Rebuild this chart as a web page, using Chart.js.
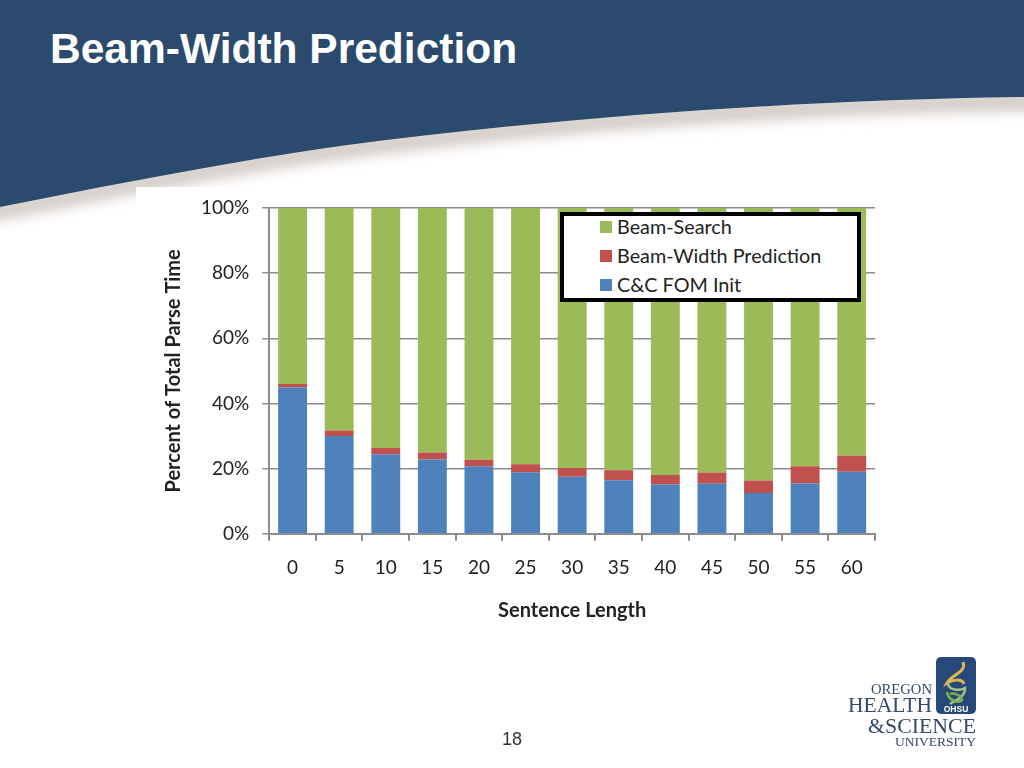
<!DOCTYPE html>
<html>
<head>
<meta charset="utf-8">
<title>Beam-Width Prediction</title>
<script src="https://cdn.jsdelivr.net/npm/chart.js@4"></script>
<style>
  html, body { margin: 0; padding: 0; background: #fff; }
  #slide { position: relative; width: 1024px; height: 768px; overflow: hidden; font-family: "Liberation Sans", sans-serif; }
  #swoosh { position: absolute; left: 0; top: 0; }
  h1 { position: absolute; left: 50px; top: 25px; margin: 0; color: #fff; font-size: 42.5px; font-weight: bold; line-height: 48px; }
  #panel { position: absolute; left: 136px; top: 187px; width: 760px; height: 450px; background: #fff; }
  #chartBox { position: absolute; left: 0; top: 0; width: 1024px; height: 768px; }
  #legend { position: absolute; left: 560px; top: 212px; width: 301px; height: 90px; box-sizing: border-box; border: 4px solid #000; background: #fff; font-family: Lato, sans-serif; font-size: 19.8px; color: #222; }
  #legend div { position: absolute; left: 53px; height: 29px; line-height: 29px; white-space: nowrap; }
  #legend i { position: absolute; left: -17px; top: 9px; width: 12px; height: 12px; }
  #pageNo { position: absolute; left: 492px; top: 729px; width: 40px; text-align: center; font-size: 18px; color: #333; }
  #logo { position: absolute; left: 840px; top: 650px; }
</style>
</head>
<body>
<div id="slide">
  <svg id="swoosh" width="1024" height="260">
    <defs>
      <filter id="soft" filterUnits="userSpaceOnUse" x="-60" y="40" width="1144" height="220">
        <feGaussianBlur stdDeviation="6"/>
      </filter>
    </defs>
    <path d="M-40 209 C120 177 240 154 340 140 C560 111 800 94 1064 91 L1064 111 C800 114 560 131 340 160 C240 174 120 197 -40 229 Z" fill="#d6cfc9" filter="url(#soft)"/>
    <path d="M0 0 H1024 V97 C800 100 560 117 340 146 C240 160 120 183 0 207 Z" fill="#2a4a6e"/>
  </svg>
  <h1>Beam-Width Prediction</h1>
  <div id="panel"></div>
  <div id="chartBox"><canvas id="parseChart" width="1024" height="768"></canvas></div>
  <div id="legend"></div>
  <div id="pageNo">18</div>
  <svg id="logo" width="140" height="105" font-family="Liberation Serif, serif" fill="#34486b">
    <rect x="96" y="7" width="40" height="57" rx="5" fill="#27497a"/>
    <path d="M123 12 C127 22 112 24 107 33 C112 30 122 28 124 34" fill="none" stroke="#dcb84e" stroke-width="3"/>
    <path d="M108 34 C110 42 122 40 125 38 C126 46 116 50 110 54" fill="none" stroke="#a8c585" stroke-width="2.5"/>
    <path d="M107 42 C108 50 118 54 122 50 C122 46 114 42 110 44" fill="none" stroke="#7fb24e" stroke-width="2.5"/>
    <text x="116" y="62" text-anchor="middle" font-family="Liberation Sans, sans-serif" font-size="8.5" font-weight="bold" fill="#fff">OHSU</text>
    <text x="31" y="44" font-size="14" textLength="61" lengthAdjust="spacingAndGlyphs">OREGON</text>
    <text x="8" y="62" font-size="21" textLength="84" lengthAdjust="spacingAndGlyphs">HEALTH</text>
    <text x="28" y="83" font-size="21" textLength="108" lengthAdjust="spacingAndGlyphs">&amp;SCIENCE</text>
    <text x="55" y="96" font-size="13" textLength="81" lengthAdjust="spacingAndGlyphs">UNIVERSITY</text>
  </svg>
</div>
<script>
const categories = ["0", "5", "10", "15", "20", "25", "30", "35", "40", "45", "50", "55", "60"];
const cfInit = [44.9, 30.0, 24.4, 22.8, 20.7, 18.9, 17.5, 16.4, 15.1, 15.3, 12.5, 15.4, 19.0];
const beamWidth = [1.1, 1.7, 1.9, 2.1, 2.0, 2.4, 2.7, 3.1, 2.9, 3.5, 3.8, 5.3, 4.9];
const beamSearch = [54.0, 68.3, 73.7, 75.1, 77.3, 78.7, 79.8, 80.5, 82.0, 81.2, 83.7, 79.3, 76.1];

const greyLine = "#8c8c8c";
const textColor = "#222";
const tickFont = { family: "Lato, sans-serif", size: 19 };
const titleFont = { family: "Lato, sans-serif", size: 20, weight: "bold" };

const chart = new Chart(document.getElementById("parseChart"), {
    type: "bar",
    data: {
        labels: categories,
        datasets: [
            { label: "C&C FOM Init", data: cfInit, backgroundColor: "#4f81bd" },
            { label: "Beam-Width Prediction", data: beamWidth, backgroundColor: "#c0504d" },
            { label: "Beam-Search", data: beamSearch, backgroundColor: "#9bbb59" }
        ]
    },
    options: {
        responsive: false,
        animation: false,
        layout: { padding: { left: 162, top: 208, right: 149, bottom: 145.5 } },
        plugins: { legend: { display: false }, tooltip: { enabled: false } },
        datasets: { bar: { barPercentage: 0.62, categoryPercentage: 1 } },
        scales: {
            x: {
                stacked: true,
                grid: { drawOnChartArea: false, color: greyLine, tickLength: 7, lineWidth: 2 },
                border: { color: greyLine, width: 2 },
                ticks: { color: textColor, font: tickFont, padding: 15.5, maxRotation: 0 },
                title: { display: true, text: "Sentence Length", color: textColor, font: titleFont, padding: { top: 4, bottom: 0 } }
            },
            y: {
                stacked: true,
                min: 0,
                max: 100,
                grid: { color: greyLine, tickLength: 7, lineWidth: 1.5 },
                border: { color: greyLine, width: 2 },
                ticks: {
                    stepSize: 20,
                    color: textColor,
                    font: tickFont,
                    padding: 13,
                    callback: function (value) {
                        return value + "%";
                    }
                },
                title: { display: true, text: "Percent of Total Parse Time", color: textColor, font: titleFont, padding: { top: 0, bottom: 2 } }
            }
        }
    }
});

// legend runs top to bottom, opposite the stacking order
const legendBox = document.getElementById("legend");
chart.data.datasets.slice().reverse().forEach((ds, i) => {
    const row = document.createElement("div");
    row.style.top = (-4 + i * 29) + "px";
    row.textContent = ds.label;
    const swatch = document.createElement("i");
    swatch.style.background = ds.backgroundColor;
    row.appendChild(swatch);
    legendBox.appendChild(row);
});
</script>
</body>
</html>
